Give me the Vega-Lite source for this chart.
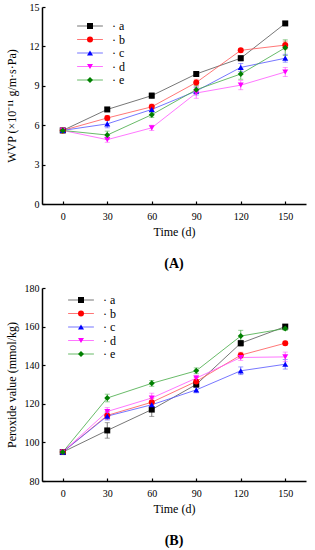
{
  "$schema": "https://vega.github.io/schema/vega-lite/v6.json",
  "padding": {"left": 5, "top": 2, "right": 4, "bottom": 0},
  "background": "white",
  "spacing": 12,
  "config": {
    "view": {"stroke": null},
    "font": "Liberation Serif",
    "axis": {
      "labelFont": "Liberation Serif", "labelFontSize": 10, "labelColor": "black",
      "titleFont": "Liberation Serif", "titleFontSize": 12, "titleFontWeight": "normal", "titleColor": "black",
      "domainColor": "black", "domainWidth": 1.5, "tickColor": "black", "tickWidth": 1.2,
      "tickSize": -3, "grid": false
    },
    "legend": {"labelFont": "Liberation Serif", "labelFontSize": 12, "labelColor": "black", "rowPadding": 1.5, "labelOffset": 16, "symbolSize": 36},
    "title": {"font": "Liberation Serif", "fontSize": 14, "fontWeight": "bold", "color": "black"}
  },
  "datasets": {
    "wvp": [
      {"t": 0, "s": "a", "v": 5.6, "e": 0.1}, {"t": 30, "s": "a", "v": 7.2, "e": 0.15}, {"t": 60, "s": "a", "v": 8.25, "e": 0.2}, {"t": 90, "s": "a", "v": 9.9, "e": 0.15}, {"t": 120, "s": "a", "v": 11.1, "e": 0.2}, {"t": 150, "s": "a", "v": 13.75, "e": 0.15},
      {"t": 0, "s": "b", "v": 5.6, "e": 0.1}, {"t": 30, "s": "b", "v": 6.55, "e": 0.2}, {"t": 60, "s": "b", "v": 7.4, "e": 0.2}, {"t": 90, "s": "b", "v": 9.25, "e": 0.25}, {"t": 120, "s": "b", "v": 11.7, "e": 0.15}, {"t": 150, "s": "b", "v": 12.1, "e": 0.3},
      {"t": 0, "s": "c", "v": 5.6, "e": 0.1}, {"t": 30, "s": "c", "v": 6.1, "e": 0.3}, {"t": 60, "s": "c", "v": 7.2, "e": 0.25}, {"t": 90, "s": "c", "v": 8.6, "e": 0.3}, {"t": 120, "s": "c", "v": 10.4, "e": 0.3}, {"t": 150, "s": "c", "v": 11.1, "e": 0.3},
      {"t": 0, "s": "d", "v": 5.6, "e": 0.1}, {"t": 30, "s": "d", "v": 4.9, "e": 0.2}, {"t": 60, "s": "d", "v": 5.8, "e": 0.2}, {"t": 90, "s": "d", "v": 8.45, "e": 0.4}, {"t": 120, "s": "d", "v": 9.05, "e": 0.35}, {"t": 150, "s": "d", "v": 10.05, "e": 0.35},
      {"t": 0, "s": "e", "v": 5.6, "e": 0.1}, {"t": 30, "s": "e", "v": 5.25, "e": 0.3}, {"t": 60, "s": "e", "v": 6.8, "e": 0.2}, {"t": 90, "s": "e", "v": 8.7, "e": 0.3}, {"t": 120, "s": "e", "v": 9.9, "e": 0.4}, {"t": 150, "s": "e", "v": 11.9, "e": 0.6}
    ],
    "pv": [
      {"t": 0, "s": "a", "v": 95, "e": 1}, {"t": 30, "s": "a", "v": 106.2, "e": 4}, {"t": 60, "s": "a", "v": 117, "e": 3.5}, {"t": 90, "s": "a", "v": 130, "e": 1.5}, {"t": 120, "s": "a", "v": 151.4, "e": 1.5}, {"t": 150, "s": "a", "v": 160, "e": 1},
      {"t": 0, "s": "b", "v": 95, "e": 1}, {"t": 30, "s": "b", "v": 114, "e": 2}, {"t": 60, "s": "b", "v": 120.8, "e": 2}, {"t": 90, "s": "b", "v": 131.6, "e": 2}, {"t": 120, "s": "b", "v": 145.2, "e": 1.5}, {"t": 150, "s": "b", "v": 151.4, "e": 1},
      {"t": 0, "s": "c", "v": 95, "e": 1}, {"t": 30, "s": "c", "v": 113.6, "e": 2}, {"t": 60, "s": "c", "v": 119.5, "e": 1.5}, {"t": 90, "s": "c", "v": 127.2, "e": 1.5}, {"t": 120, "s": "c", "v": 137.1, "e": 2}, {"t": 150, "s": "c", "v": 140.5, "e": 2.5},
      {"t": 0, "s": "d", "v": 95, "e": 1}, {"t": 30, "s": "d", "v": 116, "e": 2}, {"t": 60, "s": "d", "v": 123, "e": 2.5}, {"t": 90, "s": "d", "v": 133.3, "e": 1.5}, {"t": 120, "s": "d", "v": 144, "e": 1.5}, {"t": 150, "s": "d", "v": 144.3, "e": 2.5},
      {"t": 0, "s": "e", "v": 95, "e": 1}, {"t": 30, "s": "e", "v": 123, "e": 2}, {"t": 60, "s": "e", "v": 130.6, "e": 1.5}, {"t": 90, "s": "e", "v": 137.1, "e": 1.5}, {"t": 120, "s": "e", "v": 155.1, "e": 3}, {"t": 150, "s": "e", "v": 159, "e": 1}
    ]
  },
  "vconcat": [
    {
      "width": 264, "height": 197,
      "data": {"name": "wvp"},
      "title": {"text": "(A)", "orient": "bottom", "offset": 20},
      "encoding": {
        "x": {"field": "t", "type": "quantitative", "scale": {"domain": [-14, 164], "nice": false, "zero": false},
              "axis": {"values": [0, 30, 60, 90, 120, 150], "title": "Time (d)", "labelPadding": 10, "titlePadding": 5}},
        "y": {"field": "v", "type": "quantitative", "scale": {"domain": [0, 15], "nice": false},
              "axis": {"values": [0, 3, 6, 9, 12, 15], "title": "WVP (×10⁻¹¹ g/m·s·Pa)", "labelPadding": 6, "minExtent": 20, "maxExtent": 20, "titlePadding": 4}}
      },
      "layer": [
        {
          "mark": {"type": "line", "strokeWidth": 1, "opacity": 0.8},
          "encoding": {
            "color": {"field": "s", "type": "nominal",
              "scale": {"domain": ["a", "b", "c", "d", "e"], "range": ["#555555", "#ff5555", "#5555ff", "#ff55ff", "#44aa44"]},
              "legend": {"orient": "none", "legendX": 42, "legendY": 13, "title": null, "symbolType": "M-4.3,0H4.3", "symbolStrokeWidth": 1, "labelExpr": "'· ' + datum.label"}}
          }
        },
        {
          "mark": {"type": "errorbar", "ticks": true, "thickness": 0.8},
          "encoding": {
            "yError": {"field": "e"},
            "color": {"field": "s", "type": "nominal", "legend": null}
          }
        },
        {
          "mark": {"type": "point", "filled": true, "opacity": 1, "size": 36},
          "encoding": {
            "fill": {"field": "s", "type": "nominal", "scale": {"range": ["#000000", "#ff0000", "#0000ff", "#ff00ff", "#008000"]},
              "legend": {"orient": "none", "legendX": 42, "legendY": 13, "title": null, "labelColor": "transparent", "labelExpr": "'· ' + datum.label"}},
            "shape": {"field": "s", "type": "nominal", "scale": {"range": ["square", "circle", "triangle-up", "triangle-down", "diamond"]}}
          }
        }
      ]
    },
    {
      "width": 264, "height": 193,
      "data": {"name": "pv"},
      "title": {"text": "(B)", "orient": "bottom", "offset": 20},
      "encoding": {
        "x": {"field": "t", "type": "quantitative", "scale": {"domain": [-14, 164], "nice": false, "zero": false},
              "axis": {"values": [0, 30, 60, 90, 120, 150], "title": "Time (d)", "labelPadding": 10, "titlePadding": 5}},
        "y": {"field": "v", "type": "quantitative", "scale": {"domain": [80, 180], "nice": false, "zero": false},
              "axis": {"values": [80, 100, 120, 140, 160, 180], "title": "Peroxide value (mmol/kg)", "labelPadding": 6, "minExtent": 20, "maxExtent": 20, "titlePadding": 4}}
      },
      "layer": [
        {
          "mark": {"type": "line", "strokeWidth": 1, "opacity": 0.8},
          "encoding": {
            "color": {"field": "s", "type": "nominal",
              "scale": {"domain": ["a", "b", "c", "d", "e"], "range": ["#555555", "#ff5555", "#5555ff", "#ff55ff", "#44aa44"]},
              "legend": {"orient": "none", "legendX": 33, "legendY": 6, "title": null, "symbolType": "M-4.3,0H4.3", "symbolStrokeWidth": 1, "labelExpr": "'· ' + datum.label"}}
          }
        },
        {
          "mark": {"type": "errorbar", "ticks": true, "thickness": 0.8},
          "encoding": {
            "yError": {"field": "e"},
            "color": {"field": "s", "type": "nominal", "legend": null}
          }
        },
        {
          "mark": {"type": "point", "filled": true, "opacity": 1, "size": 36},
          "encoding": {
            "fill": {"field": "s", "type": "nominal", "scale": {"range": ["#000000", "#ff0000", "#0000ff", "#ff00ff", "#008000"]},
              "legend": {"orient": "none", "legendX": 33, "legendY": 6, "title": null, "labelColor": "transparent", "labelExpr": "'· ' + datum.label"}},
            "shape": {"field": "s", "type": "nominal", "scale": {"range": ["square", "circle", "triangle-up", "triangle-down", "diamond"]}}
          }
        }
      ]
    }
  ],
  "resolve": {"scale": {"color": "independent", "fill": "independent", "shape": "independent"}, "legend": {"color": "independent", "fill": "independent", "shape": "independent"}}
}
